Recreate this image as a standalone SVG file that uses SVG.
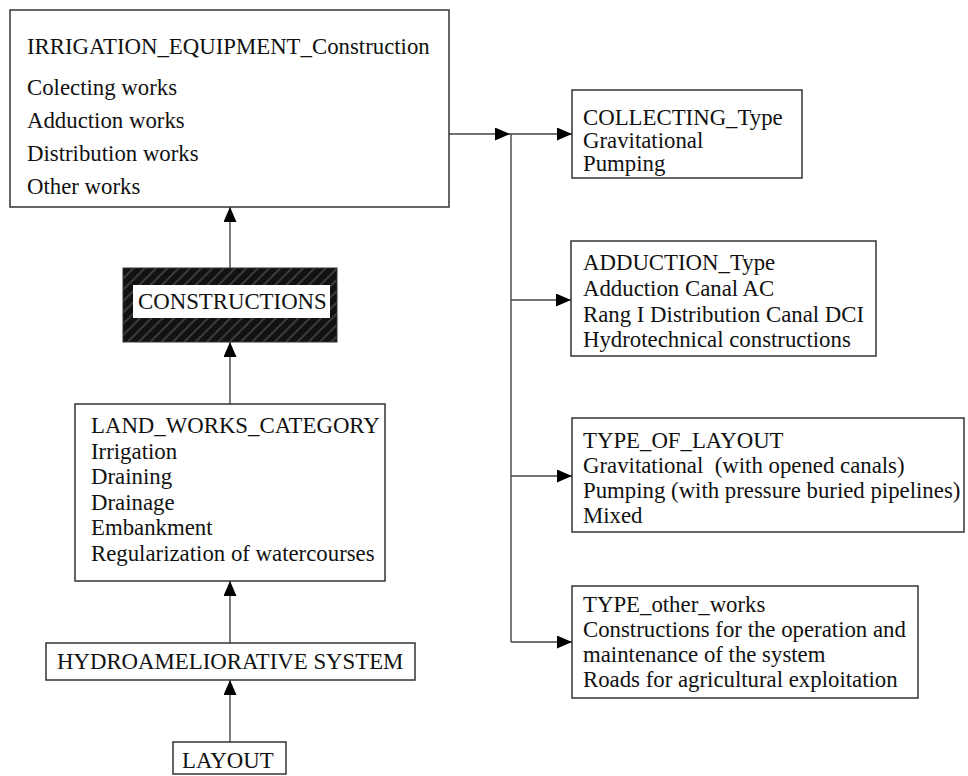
<svg xmlns="http://www.w3.org/2000/svg" width="968" height="776" viewBox="0 0 968 776">
<style>
  .box { fill: #ffffff; stroke: #333333; stroke-width: 1.5; }
  .t { font-family: "Liberation Serif", "Times New Roman", serif; font-size: 22.8px; fill: #111111; }
  .c { fill: none; stroke: #444444; stroke-width: 1.4; }
</style>
<defs>
  <marker id="arr" markerUnits="userSpaceOnUse" markerWidth="16" markerHeight="14" refX="15" refY="6.5" orient="auto">
    <path d="M0,0 L15,6.5 L0,13 Z" fill="#000000"/>
  </marker>
  <pattern id="hatch" patternUnits="userSpaceOnUse" width="8" height="8" patternTransform="rotate(45)">
    <rect x="0" y="0" width="8" height="8" fill="#121212"/>
    <line x1="4" y1="0" x2="4" y2="8" stroke="#3c3c3c" stroke-width="2"/>
  </pattern>
</defs>

<g id="connectors">
  <line class="c" x1="449" y1="134" x2="510" y2="134" marker-end="url(#arr)"/>
  <line class="c" x1="510" y1="134" x2="572" y2="134" marker-end="url(#arr)"/>
  <line class="c" x1="511" y1="134" x2="511" y2="642"/>
  <line class="c" x1="511" y1="300" x2="571" y2="300" marker-end="url(#arr)"/>
  <line class="c" x1="511" y1="476" x2="572" y2="476" marker-end="url(#arr)"/>
  <line class="c" x1="511" y1="642" x2="572" y2="642" marker-end="url(#arr)"/>
  <line class="c" x1="230" y1="268" x2="230" y2="207" marker-end="url(#arr)"/>
  <line class="c" x1="230" y1="404" x2="230" y2="342" marker-end="url(#arr)"/>
  <line class="c" x1="230" y1="643" x2="230" y2="581" marker-end="url(#arr)"/>
  <line class="c" x1="230" y1="742" x2="230" y2="680" marker-end="url(#arr)"/>
</g>

<g id="irrigation_equipment">
  <rect class="box" x="10" y="10" width="439" height="197"/>
  <text class="t" x="27" y="53.5">IRRIGATION_EQUIPMENT_Construction</text>
  <text class="t" x="27" y="94.5">Colecting works</text>
  <text class="t" x="27" y="127.5">Adduction works</text>
  <text class="t" x="27" y="161">Distribution works</text>
  <text class="t" x="27" y="194">Other works</text>
</g>

<g id="collecting_type">
  <rect class="box" x="572" y="90" width="230" height="88"/>
  <text class="t" x="583" y="124.5">COLLECTING_Type</text>
  <text class="t" x="583" y="148">Gravitational</text>
  <text class="t" x="583" y="171">Pumping</text>
</g>

<g id="adduction_type">
  <rect class="box" x="571" y="241" width="305" height="115"/>
  <text class="t" x="583" y="270">ADDUCTION_Type</text>
  <text class="t" x="583" y="295.5">Adduction Canal AC</text>
  <text class="t" x="583" y="321.5">Rang I Distribution Canal DCI</text>
  <text class="t" x="583" y="347">Hydrotechnical constructions</text>
</g>

<g id="type_of_layout">
  <rect class="box" x="572" y="418" width="392" height="114"/>
  <text class="t" x="583" y="447.5">TYPE_OF_LAYOUT</text>
  <text class="t" x="583" y="473" xml:space="preserve">Gravitational  (with opened canals)</text>
  <text class="t" x="583" y="498">Pumping (with pressure buried pipelines)</text>
  <text class="t" x="583" y="523">Mixed</text>
</g>

<g id="type_other_works">
  <rect class="box" x="572" y="586" width="346" height="112"/>
  <text class="t" x="583" y="611.5">TYPE_other_works</text>
  <text class="t" x="583" y="637">Constructions for the operation and</text>
  <text class="t" x="583" y="661.5">maintenance of the system</text>
  <text class="t" x="583" y="686.5">Roads for agricultural exploitation</text>
</g>

<g id="constructions">
  <rect x="123" y="268" width="214" height="74" fill="url(#hatch)" stroke="#333333" stroke-width="1"/>
  <rect x="133" y="285" width="197" height="33" fill="#ffffff"/>
  <text class="t" x="138" y="309">CONSTRUCTIONS</text>
</g>

<g id="land_works_category">
  <rect class="box" x="75" y="404" width="310" height="177"/>
  <text class="t" x="91" y="432.5">LAND_WORKS_CATEGORY</text>
  <text class="t" x="91" y="458.5">Irrigation</text>
  <text class="t" x="91" y="483.5">Draining</text>
  <text class="t" x="91" y="509.5">Drainage</text>
  <text class="t" x="91" y="534.5">Embankment</text>
  <text class="t" x="91" y="560.5">Regularization of watercourses</text>
</g>

<g id="hydroameliorative_system">
  <rect class="box" x="46" y="643" width="369" height="37"/>
  <text class="t" x="57" y="669">HYDROAMELIORATIVE SYSTEM</text>
</g>

<g id="layout">
  <rect class="box" x="173" y="742" width="113" height="32"/>
  <text class="t" x="182" y="768">LAYOUT</text>
</g>
</svg>
